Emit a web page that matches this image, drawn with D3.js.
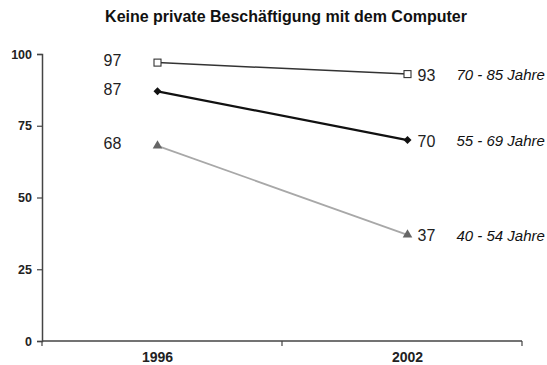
<!DOCTYPE html>
<html>
<head>
<meta charset="utf-8">
<script src="https://cdn.jsdelivr.net/npm/d3@7"></script>
<style>
  html, body { margin: 0; padding: 0; background: #fff; }
  svg { display: block; font-family: "Liberation Sans", Arial, sans-serif; }
</style>
</head>
<body>
<svg id="chart" width="547" height="365"></svg>
<script>
// Share of people without private computer use, by age group
const years = ["1996", "2002"];
const groups = ["70 - 85 Jahre", "55 - 69 Jahre", "40 - 54 Jahre"];
const values7085 = [97, 93];
const values5569 = [87, 70];
const values4054 = [68, 37];
const yTicks = [0, 25, 50, 75, 100];
const title = "Keine private Beschäftigung mit dem Computer";

const series = [
  { name: groups[0], values: values7085, line: "#333", width: 1.5, marker: "square" },
  { name: groups[1], values: values5569, line: "#111", width: 2.2, marker: "diamond" },
  { name: groups[2], values: values4054, line: "#a8a8a8", width: 1.8, marker: "triangle" }
];

const svg = d3.select("#chart");
const plotLeft = 42, plotRight = 522, plotTop = 54, plotBottom = 341;

const y = d3.scaleLinear().domain([0, 100]).range([plotBottom, plotTop]);
// category band for the axis ticks, points for the data
const xBand = d3.scaleBand().domain(years).range([plotLeft, plotRight]);
const x = d3.scalePoint().domain(years).range([plotLeft + 115.5, plotLeft + 365.5]);

// title
svg.append("text")
  .attr("x", 286).attr("y", 22)
  .attr("text-anchor", "middle")
  .attr("font-size", 16).attr("font-weight", "bold")
  .attr("fill", "#111")
  .text(title);

// y axis
const yAxis = d3.axisLeft(y).tickValues(yTicks).tickSize(5).tickPadding(5);
const gy = svg.append("g").attr("transform", `translate(${plotLeft},0)`).call(yAxis);
gy.select(".domain").attr("stroke", "#444").attr("stroke-width", 1.5);
gy.selectAll(".tick line").attr("stroke", "#444").attr("stroke-width", 1.2);
gy.selectAll(".tick text").attr("font-size", 12.5).attr("font-weight", "bold")
  .attr("fill", "#222").attr("font-family", "Liberation Sans, Arial, sans-serif");

// x axis: line with boundary ticks, labels at the data points
const gx = svg.append("g");
gx.append("line").attr("x1", plotLeft).attr("x2", plotRight).attr("y1", plotBottom).attr("y2", plotBottom)
  .attr("stroke", "#444").attr("stroke-width", 1.5);
const bounds = years.map(d => xBand(d)).concat([xBand(years[years.length - 1]) + xBand.bandwidth()]);
gx.selectAll("line.bt").data(bounds).enter().append("line")
  .attr("class", "bt")
  .attr("x1", d => d).attr("x2", d => d)
  .attr("y1", plotBottom).attr("y2", plotBottom + 5)
  .attr("stroke", "#444").attr("stroke-width", 1.2);
gx.selectAll("text").data(years).enter().append("text")
  .attr("x", d => x(d)).attr("y", plotBottom + 21)
  .attr("text-anchor", "middle")
  .attr("font-size", 14).attr("font-weight", "bold").attr("fill", "#222")
  .text(d => d);

// lines
const line = d3.line().x((d, i) => x(years[i])).y(d => y(d));
series.forEach(s => {
  svg.append("path").datum(s.values)
    .attr("d", line).attr("fill", "none")
    .attr("stroke", s.line).attr("stroke-width", s.width);
});

// markers
series.forEach(s => {
  const g = svg.append("g");
  s.values.forEach((v, i) => {
    const cx = x(years[i]), cy = y(v);
    if (s.marker === "square") {
      g.append("rect").attr("x", cx - 3.5).attr("y", cy - 3.5)
        .attr("width", 7).attr("height", 7)
        .attr("fill", "#fff").attr("stroke", "#333").attr("stroke-width", 1.1);
    } else if (s.marker === "diamond") {
      g.append("path").attr("transform", `translate(${cx},${cy}) rotate(45)`)
        .attr("d", d3.symbol(d3.symbolSquare, 32)()).attr("fill", "#111");
    } else {
      g.append("path").attr("transform", `translate(${cx},${cy})`)
        .attr("d", d3.symbol(d3.symbolTriangle, 40)()).attr("fill", "#666");
    }
  });
});

// value labels
series.forEach(s => {
  svg.append("text")
    .attr("x", x(years[0]) - 45).attr("y", y(s.values[0]) - 2)
    .attr("dy", "0.35em").attr("text-anchor", "middle")
    .attr("font-size", 16).attr("fill", "#222")
    .text(s.values[0]);
  svg.append("text")
    .attr("x", x(years[1]) + 10).attr("y", y(s.values[1]) + 1)
    .attr("dy", "0.35em").attr("text-anchor", "start")
    .attr("font-size", 16).attr("fill", "#222")
    .text(s.values[1]);
  svg.append("text")
    .attr("x", x(years[1]) + 49).attr("y", y(s.values[1]) + 1)
    .attr("dy", "0.35em").attr("text-anchor", "start")
    .attr("font-size", 15).attr("font-style", "italic")
    .attr("fill", "#111")
    .text(s.name);
});
</script>
</body>
</html>
